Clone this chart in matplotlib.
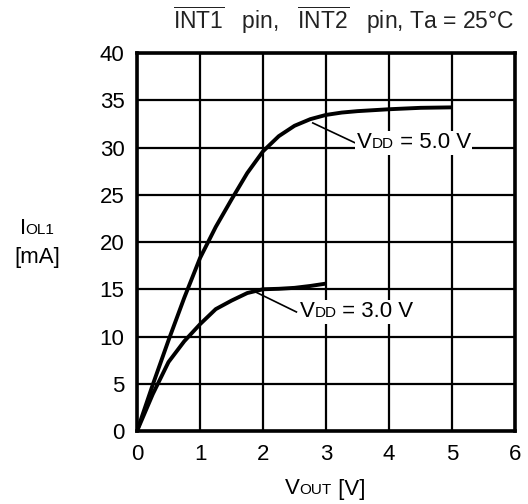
import matplotlib
matplotlib.use("Agg")
import matplotlib.pyplot as plt
from matplotlib.offsetbox import TextArea, HPacker, AnnotationBbox

plt.rcParams['font.family'] = ['Liberation Sans', 'DejaVu Sans']
plt.rcParams['mathtext.fontset'] = 'custom'
plt.rcParams['mathtext.rm'] = 'Liberation Sans'
plt.rcParams['mathtext.it'] = 'Liberation Sans'

# data
v5_x = [0, 0.25, 0.5, 0.75, 1.0, 1.25, 1.5, 1.75, 2.0, 2.25, 2.5, 2.75, 3.0, 3.25, 3.5, 4.0, 4.5, 5.0]
v5_y = [0, 4.9, 9.6, 14.1, 18.3, 21.6, 24.5, 27.3, 29.6, 31.2, 32.3, 33.0, 33.45, 33.7, 33.85, 34.05, 34.2, 34.25]
v3_x = [0, 0.25, 0.5, 0.75, 1.0, 1.25, 1.5, 1.75, 2.0, 2.25, 2.5, 2.75, 3.0]
v3_y = [0, 3.9, 7.3, 9.5, 11.3, 12.9, 13.8, 14.6, 15.0, 15.05, 15.15, 15.35, 15.6]
xticks = [0, 1, 2, 3, 4, 5, 6]
yticks = [0, 5, 10, 15, 20, 25, 30, 35, 40]
labels = ['5.0', '3.0']

FS = 16
SS = 11

fig = plt.figure(figsize=(5.28, 5.04), dpi=100)
ax = fig.add_axes([0.2595, 0.1448, 0.7159, 0.75])
ax.set_xlim(0, 6)
ax.set_ylim(0, 40)
ax.set_xticks(xticks)
ax.set_yticks(yticks)
ax.grid(True, color='black', linewidth=1.6)
ax.set_axisbelow(True)
for s in ax.spines.values():
    s.set_linewidth(2.6)
ax.tick_params(length=0, pad=9, labelsize=FS)

ax.plot(v5_x, v5_y, color='black', linewidth=2.8, solid_capstyle='butt', solid_joinstyle='round', zorder=3)
ax.plot(v3_x, v3_y, color='black', linewidth=2.8, solid_capstyle='butt', solid_joinstyle='round', zorder=3)


def mixed(parts, xy, coords, align=(0.5, 0.5), bg=False):
    kids = [TextArea(t, textprops=dict(size=s, color='black')) for t, s in parts]
    pk = HPacker(children=kids, align='baseline', pad=0, sep=0)
    ab = AnnotationBbox(pk, xy, xycoords=coords, box_alignment=align,
                        frameon=bg, pad=0.1, annotation_clip=False, zorder=5,
                        bboxprops=dict(facecolor='white', edgecolor='none'))
    ax.add_artist(ab)
    return ab


# annotations
ax.plot([2.79, 3.46], [32.6, 30.5], color='black', linewidth=1.2, zorder=3)
mixed([('V', FS), ('DD', SS), (' = %s V' % labels[0], FS)], (3.49, 30.5), 'data', (0, 0.5), bg=True)
ax.plot([1.87, 2.53], [14.75, 12.6], color='black', linewidth=1.2, zorder=3)
mixed([('V', FS), ('DD', SS), (' = %s V' % labels[1], FS)], (2.58, 12.6), 'data', (0, 0.5), bg=True)

# axis labels
mixed([('V', FS), ('OUT', SS), (' [V]', FS)], (325, 504 - 489), 'figure pixels', (0.5, 0.5))
mixed([('I', FS), ('OL1', SS)], (37, 504 - 229), 'figure pixels', (0.5, 0.5))
fig.text(37, 504 - 257, '[mA]', fontsize=FS, ha='center', va='center', transform=None)

fig.text(0.975, 0.960, r'$\overline{\mathrm{INT1}}$   pin,   $\overline{\mathrm{INT2}}$   pin, Ta = 25°C',
         fontsize=16.5, ha='right', va='center', color='#222222')

fig.savefig('out.png', dpi=100)
